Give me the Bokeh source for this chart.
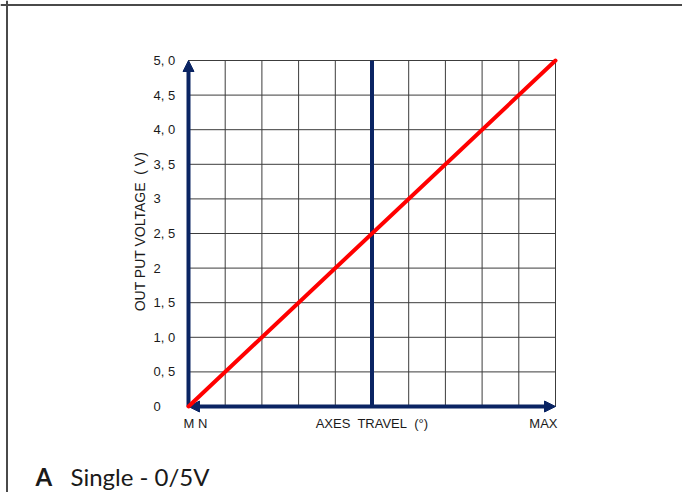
import math
from bokeh.plotting import figure
from bokeh.models import Range1d, Arrow, NormalHead, ColumnDataSource, Span
from bokeh.core.properties import value
from bokeh.embed import file_html
from bokeh.resources import INLINE

# ---- data ----
x_ticks = [0, 1, 2, 3, 4, 5, 6, 7, 8, 9, 10]
y_ticks = [0, 0.5, 1, 1.5, 2, 2.5, 3, 3.5, 4, 4.5, 5]
y_tick_labels = ["0", "0, 5", "1, 0", "1, 5", "2", "2, 5", "3", "3, 5", "4, 0", "4, 5", "5, 0"]
travel = [0, 10]          # MIN .. MAX
voltage = [0, 5]          # 0 .. 5 V
mid_travel = [5]
x_labels = ["M N", "AXES\u00a0 TRAVEL\u00a0 (°)", "MAX"]
x_label_pos = [0, 5, 10]
x_label_align = ["left", "center", "right"]
y_axis_title = "OUT PUT VOLTAGE\u00a0 ( V)"
caption_letter = "A"
caption_text = "Single - 0/5V"

navy = "#0a2463"
red = "#ff0000"
txt = "#1a1a1a"
grid_col = "#3c3c3c"
font = "Liberation Sans"

# canvas layout (pixels): plot area left=188, width=367, top=60, height=346
W, H = 682, 492
L, PW, T, PH = 188, 367, 60, 346
xs = (travel[1] - travel[0]) / PW
ys = (voltage[1] - voltage[0]) / PH

def px_x(px):
    return travel[0] + (px - L) * xs

def px_y(py):
    return voltage[0] + (T + PH - py) * ys

p = figure(width=W, height=H,
           x_range=Range1d(px_x(0), px_x(W)),
           y_range=Range1d(px_y(H), px_y(0)),
           x_axis_location=None, y_axis_location=None,
           output_backend="svg", toolbar_location=None,
           min_border=0)
p.outline_line_color = None
p.background_fill_color = "white"
p.border_fill_color = "white"
p.xgrid.visible = False
p.ygrid.visible = False

# page frame (top & left rules)
p.add_layout(Span(location=px_y(4.5), dimension="width", line_color="#4a4a4a", line_width=2))
p.add_layout(Span(location=px_x(6.5), dimension="height", line_color="#4a4a4a", line_width=2))

# grid
p.segment(x0=x_ticks, y0=[voltage[0]] * len(x_ticks), x1=x_ticks, y1=[voltage[1]] * len(x_ticks),
          line_color=grid_col, line_width=1)
p.segment(x0=[travel[0]] * len(y_ticks), y0=y_ticks, x1=[travel[1]] * len(y_ticks), y1=y_ticks,
          line_color=grid_col, line_width=1)

# middle travel line
p.segment(x0=mid_travel, y0=[voltage[0]], x1=mid_travel, y1=[voltage[1]],
          line_color=navy, line_width=4)

# axes arrows
p.add_layout(Arrow(x_start=travel[0], y_start=voltage[0], x_end=travel[1], y_end=voltage[0],
                   start=NormalHead(size=11, fill_color=navy, line_color=navy),
                   end=NormalHead(size=11, fill_color=navy, line_color=navy),
                   line_color=navy, line_width=4))
p.add_layout(Arrow(x_start=travel[0], y_start=voltage[0], x_end=travel[0], y_end=voltage[1],
                   end=NormalHead(size=11, fill_color=navy, line_color=navy),
                   line_color=navy, line_width=4))

# output curve
r = p.line(travel, voltage, line_color=red, line_width=4, line_cap="round")
r.level = "overlay"

# y tick labels
src = ColumnDataSource(dict(x=[travel[0]] * len(y_ticks), y=y_ticks, t=y_tick_labels))
p.text(x="x", y="y", text="t", source=src, x_offset=-35,
       text_align="left", text_baseline="middle",
       text_font=value(font), text_font_size="13px", text_color=txt)

# x labels
src2 = ColumnDataSource(dict(x=x_label_pos, y=[voltage[0]] * 3, t=x_labels,
                             a=x_label_align, o=[-5, 0, 2]))
p.text(x="x", y="y", text="t", source=src2, x_offset="o", y_offset=17,
       text_align="a", text_baseline="middle",
       text_font=value(font), text_font_size="13px", text_color=txt)

# y axis title
p.text(x=[travel[0]], y=[(voltage[0] + voltage[1]) / 2], text=[y_axis_title],
       x_offset=-49, y_offset=-2, angle=math.pi / 2,
       text_align="center", text_baseline="middle",
       text_font=value(font), text_font_size="14px", text_color=txt)

# caption
p.text(x=[travel[0]], y=[voltage[0]], text=[caption_letter], x_offset=-153, y_offset=84,
       text_align="left", text_baseline="bottom",
       text_font=value("Lato"), text_font_style="bold", text_font_size="24px", text_color=txt)
p.text(x=[travel[0]], y=[voltage[0]], text=[caption_text], x_offset=-118, y_offset=84,
       text_align="left", text_baseline="bottom",
       text_font=value("Lato"), text_font_size="24px", text_color=txt)

open("out.html", "w").write(file_html(p, INLINE))
